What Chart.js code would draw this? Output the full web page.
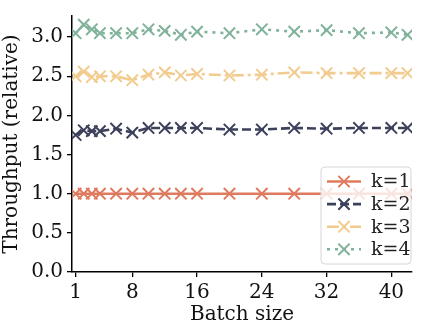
<!DOCTYPE html>
<html>
<head>
<meta charset="utf-8">
<script src="https://cdn.jsdelivr.net/npm/chart.js"></script>
<style>
  html, body { margin: 0; padding: 0; background: #fff; }
  #wrap { width: 422px; height: 327px; }
</style>
</head>
<body>
<div id="wrap"><canvas id="chart" width="422" height="327"></canvas></div>
<script>
// batch sizes measured
const batchSizes = [1, 2, 3, 4, 6, 8, 10, 12, 14, 16, 20, 24, 28, 32, 36, 40, 42];

// relative throughput per k
const k1 = [1.00, 1.00, 1.00, 1.00, 1.00, 1.00, 1.00, 1.00, 1.00, 1.00, 1.00, 1.00, 1.00, 1.00, 1.00, 1.00, 1.00];
const k2 = [1.75, 1.81, 1.80, 1.80, 1.83, 1.78, 1.84, 1.84, 1.84, 1.84, 1.82, 1.82, 1.84, 1.83, 1.84, 1.84, 1.84];
const k3 = [2.50, 2.56, 2.49, 2.50, 2.50, 2.45, 2.52, 2.55, 2.51, 2.53, 2.51, 2.52, 2.55, 2.54, 2.54, 2.54, 2.54];
const k4 = [3.05, 3.16, 3.10, 3.05, 3.05, 3.05, 3.10, 3.08, 3.03, 3.07, 3.05, 3.10, 3.07, 3.09, 3.05, 3.06, 3.03];

const seriesLabels = ['k=1', 'k=2', 'k=3', 'k=4'];
const seriesColors = ['#e07a5f', '#3d405b', '#f2cc8f', '#81b29a'];
const seriesDashes = [[], [9, 4], [12, 4, 3, 4], [3, 5]];

const xTicks = [1, 8, 16, 24, 32, 40];
const yTicks = [0, 0.5, 1.0, 1.5, 2.0, 2.5, 3.0];

const font = { family: '"DejaVu Serif", serif', size: 20 };

function toPoints(ys) {
  return batchSizes.map((x, i) => ({ x: x, y: ys[i] }));
}

const datasets = [k1, k2, k3, k4].map((ys, i) => ({
  label: seriesLabels[i],
  data: toPoints(ys),
  borderColor: seriesColors[i],
  backgroundColor: seriesColors[i],
  borderWidth: 2.6,
  borderDash: seriesDashes[i],
  pointStyle: 'crossRot',
  pointRadius: 8,
  pointBorderWidth: 2,
  pointBorderColor: seriesColors[i],
  pointHoverRadius: 8,
  tension: 0
}));

// legend box in the lower right corner of the plot
const cornerLegend = {
  id: 'cornerLegend',
  afterDatasetsDraw(chart) {
    const ctx = chart.ctx;
    const x0 = 321, y0 = 167, w = 90, h = 97;
    ctx.save();
    ctx.beginPath();
    ctx.roundRect(x0, y0, w, h, 4);
    ctx.fillStyle = 'rgba(255,255,255,0.8)';
    ctx.fill();
    ctx.strokeStyle = '#d6d6d6';
    ctx.lineWidth = 1;
    ctx.stroke();
    chart.data.datasets.forEach((ds, i) => {
      const cy = y0 + 14.5 + i * 22.6;
      ctx.strokeStyle = ds.borderColor;
      ctx.lineWidth = ds.borderWidth;
      ctx.setLineDash(ds.borderDash);
      ctx.beginPath();
      ctx.moveTo(327, cy);
      ctx.lineTo(361, cy);
      ctx.stroke();
      ctx.setLineDash([]);
      ctx.lineWidth = ds.pointBorderWidth;
      const d = ds.pointRadius * Math.SQRT1_2;
      ctx.beginPath();
      ctx.moveTo(344 - d, cy - d);
      ctx.lineTo(344 + d, cy + d);
      ctx.moveTo(344 - d, cy + d);
      ctx.lineTo(344 + d, cy - d);
      ctx.stroke();
      ctx.fillStyle = '#222';
      ctx.font = '19px "DejaVu Serif", serif';
      ctx.textBaseline = 'middle';
      ctx.textAlign = 'left';
      ctx.fillText(ds.label, 371, cy + 1);
    });
    ctx.restore();
  }
};

new Chart(document.getElementById('chart'), {
  type: 'line',
  data: { datasets: datasets },
  plugins: [cornerLegend],
  options: {
    responsive: false,
    animation: false,
    devicePixelRatio: 1,
    layout: { padding: { top: 3, right: 4, left: 0, bottom: 0 } },
    plugins: {
      legend: { display: false },
      tooltip: { enabled: false }
    },
    scales: {
      x: {
        type: 'linear',
        min: 0.55,
        max: 42.55,
        afterBuildTicks(axis) { axis.ticks = xTicks.map(v => ({ value: v })); },
        afterFit(axis) { axis.height = 55; },
        grid: { display: true, drawOnChartArea: false, drawTicks: true, tickLength: 5, color: '#000', lineWidth: 1.3 },
        border: { display: true, color: '#000', width: 1.5 },
        ticks: { color: '#111', font: font, padding: 4, maxRotation: 0 },
        title: { display: true, text: 'Batch size', color: '#111', font: font, padding: { top: 3, bottom: 0 } }
      },
      y: {
        type: 'linear',
        min: 0,
        max: 3.27,
        afterBuildTicks(axis) { axis.ticks = yTicks.map(v => ({ value: v })); },
        afterFit(axis) { axis.width = 72; },
        grid: { display: true, drawOnChartArea: false, drawTicks: true, tickLength: 5, color: '#000', lineWidth: 1.3 },
        border: { display: true, color: '#000', width: 1.5 },
        ticks: { color: '#111', font: font, padding: 4, callback: v => v.toFixed(1) },
        title: { display: true, text: 'Throughput (relative)', color: '#111', font: font, padding: { top: 0, bottom: 0 } }
      }
    }
  }
});
</script>
</body>
</html>
